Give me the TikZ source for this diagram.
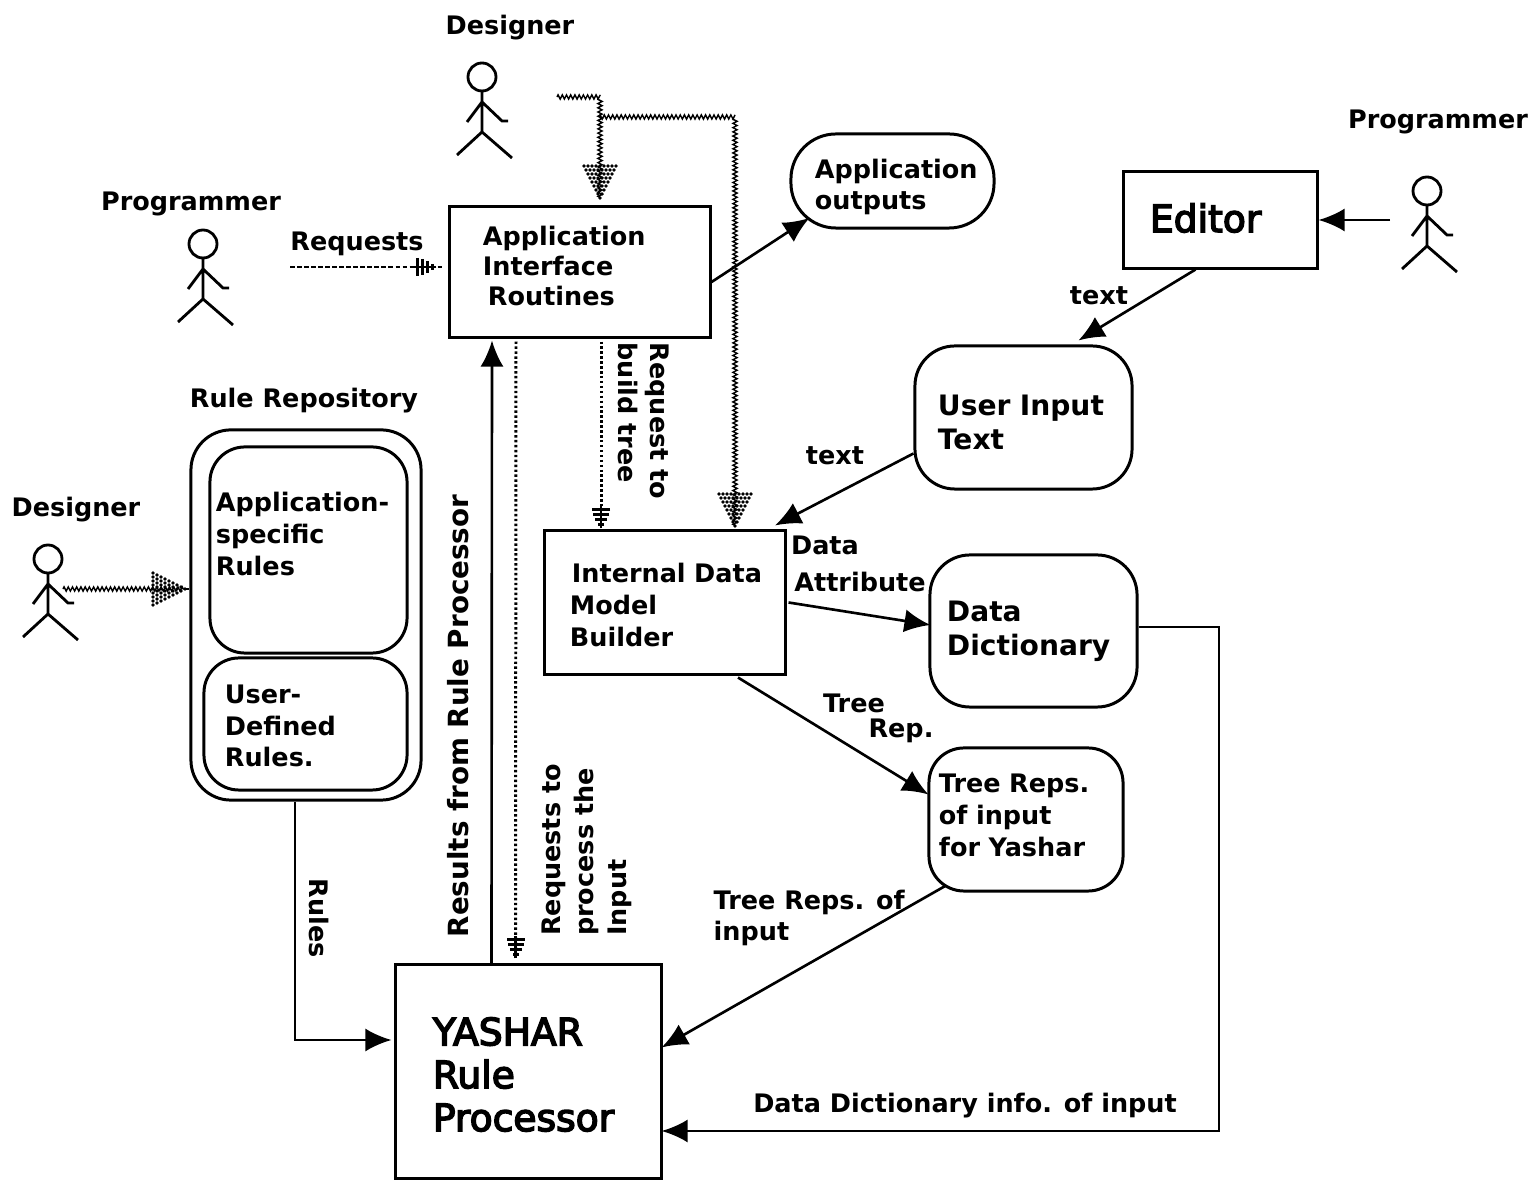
\documentclass[tikz,border=0pt]{standalone}
\usepackage{fontspec}
\setsansfont{DejaVu Sans}
\newfontfamily\bigface[FakeBold=4]{DejaVu Sans}
\usetikzlibrary{calc,arrows.meta,decorations.pathmorphing}
\newcommand{\gap}[1]{\par\kern#1\relax}
\tikzset{
  lblfont/.style={font=\fontsize{7.25}{9.07}\selectfont\sffamily\bfseries},
  midfont/.style={font=\fontsize{8}{9.6}\selectfont\sffamily\bfseries},
  bigfont/.style={font=\fontsize{10.7}{12.2}\selectfont\bigface},
  lbl/.style={lblfont, inner sep=0pt, align=left},
  sqbox/.style={draw, line width=0.85pt, align=left, inner ysep=0pt},
  rdbox/.style={sqbox, rounded corners=0.35cm},
  solidarr/.style={draw, line width=0.75pt, -{Latex[length=0.26cm,width=0.23cm]}},
  wavy/.style={draw, line width=0.4pt, decorate, decoration={zigzag, amplitude=0.6pt, segment length=1.2pt}},
  dotline/.style={draw, line width=0.85pt, dash pattern=on 0.7pt off 0.7pt},
  pics/stickman/.style={code={\draw[line width=0.8pt] (0,0) circle (14) (0,14)--(0,55)--(-25,78) (0,55)--(30,81) (-15,45)--(0,25)--(20,44)--(26,44);}},
  pics/chkhead/.style={code={\foreach \r in {0,...,8}{\foreach \c in {0,...,\r}{\fill ({-4*\r},{2*\r-4*\c}) circle (1.8);}}}},
  pics/dothead/.style={code={\draw[line width=0.8pt] (0,0)--(-22,0) (-19,-9)--(-19,9) (-14,-8)--(-14,8) (-9,-6)--(-9,6) (-4,-3)--(-4,3);}}
}
\begin{document}
\begin{tikzpicture}[x=0.01cm, y=-0.01cm, font=\sffamily]
\useasboundingbox (0,0) rectangle (1539,1180);
\pic at (482,77) {stickman}; \pic at (203,244) {stickman}; \pic at (48,559) {stickman}; \pic at (1427,191) {stickman};
\node[lbl] (dsgntop) at (510,28) {Designer}; \node[lbl] (progleft) at (191,204) {Programmer}; \node[lbl] (dsgnleft) at (76,510) {Designer}; \node[lbl] (progright) at (1438,122) {Programmer};
\node[sqbox, minimum width=2.6cm, minimum height=1.3cm, text width=1.94cm, inner xsep=0.33cm, font=\fontsize{7.25}{8.4}\selectfont\sffamily\bfseries] (iface) at (580,272) {Application\\Interface\\\hspace*{0.05cm}Routines\gap{3.4pt}};
\node[rdbox, rounded corners=0.45cm, minimum width=2.03cm, minimum height=0.94cm, text width=1.55cm, inner xsep=0.24cm, lblfont] (appout) at (892.5,181) {Application\\outputs\gap{-3.4pt}};
\node[sqbox, minimum width=1.93cm, minimum height=0.96cm, text width=1.41cm, inner xsep=0.26cm, bigfont] (editor) at (1220.5,220) {Editor\gap{1.1pt}};
\node[rdbox, rounded corners=0.4cm, minimum width=2.17cm, minimum height=1.43cm, text width=1.71cm, inner xsep=0.23cm, midfont] (userin) at (1023.5,417.5) {User Input\\Text\gap{-2.8pt}};
\node[sqbox, minimum width=2.4cm, minimum height=1.43cm, text width=2cm, inner xsep=0.2cm, lblfont] (builder) at (665,602.5) {\hspace*{0.07cm}Internal Data\\\hspace*{0.05cm}Model\\\hspace*{0.05cm}Builder\gap{-1.4pt}};
\node[rdbox, rounded corners=0.4cm, minimum width=2.07cm, minimum height=1.52cm, text width=1.73cm, inner xsep=0.17cm, midfont] (datadict) at (1033.5,631) {Data\\Dictionary};
\node[rdbox, minimum width=1.94cm, minimum height=1.43cm, text width=1.74cm, inner xsep=0.1cm, lblfont] (treereps) at (1026,819.5) {Tree Reps.\\of input\\for Yashar\gap{2.3pt}};
\node[rdbox, rounded corners=0.4cm, minimum width=2.3cm, minimum height=3.7cm] (repo) at (306,615) {};
\node[lbl] (repolbl) at (304,401) {Rule Repository};
\node[rdbox, minimum width=1.97cm, minimum height=2.06cm, text width=1.85cm, inner xsep=0.06cm, lblfont] (apprules) at (308.5,550) {Application-\\specific\\Rules\gap{9pt}};
\node[rdbox, minimum width=2.03cm, minimum height=1.32cm, text width=1.61cm, inner xsep=0.21cm, lblfont] (userrules) at (305.5,724) {User-\\Defined\\Rules.\gap{-1.1pt}};
\node[sqbox, minimum width=2.65cm, minimum height=2.13cm, text width=1.91cm, inner xsep=0.37cm, bigfont] (yashar) at (528.5,1071.5) {YASHAR\\Rule\\Processor\gap{-1.7pt}};
\node[lbl] (reqlbl) at (357,244) {Requests}; \node[lbl, rotate=-90] (buildlbl) at (644,421) {Request to\\build tree}; \node[lbl, rotate=90, font=\fontsize{7.9}{9.4}\selectfont\sffamily\bfseries] (resultlbl) at (458,716) {Results from Rule Processor};
\node[lbl, rotate=90, font=\fontsize{7.25}{9.3}\selectfont\sffamily\bfseries] (proclbl) at (587,850) {Requests to\\process the\\Input}; \node[lbl, rotate=-90] (ruleslbl) at (319,918) {Rules};
\node[lbl] (textone) at (1099,296) {text}; \node[lbl] (texttwo) at (835,456) {text}; \node[lbl] (datalbl) at (825,545) {Data}; \node[lbl] (attrlbl) at (860,582) {Attribute}; \node[lbl] (treelbl) at (854,703) {Tree}; \node[lbl] (replbl) at (901,731) {Rep.};
\node[lbl, anchor=west] (inputlbl) at (713,918) {Tree Reps. of\\input}; \node[lbl] (infolbl) at (965,1106) {Data Dictionary info. of input};
\coordinate (dsgnout) at (557,97); \coordinate (bend) at (599,117); \coordinate (tipa) at (600,198); \coordinate (tipb) at (735,526); \coordinate (handl) at (63,589); \coordinate (tipc) at (185,589); \coordinate (reqstart) at (290,267); \coordinate (progr) at (1390,220); \coordinate (ddcorner) at (1219,1131);
\path[wavy] (dsgnout) -| (tipa); \path[wavy] (bend) -| (tipb); \path[wavy] (handl) -- (tipc);
\pic[rotate=-90] at (tipa) {chkhead}; \pic[rotate=-90] at (tipb) {chkhead}; \pic at (tipc) {chkhead}; \draw[line width=0.5pt] (tipc) -- (tipc -| repo.west);
\draw[line width=0.45pt, dash pattern=on 1.4pt off 0.6pt] (reqstart) -- ($(iface.west)+(-6,-5)$); \pic at ($(iface.west)+(-12,-5)$) {dothead};
\path[solidarr] ($(iface.east)+(0,10)$) -- ($(appout.west)+(20,37)$);
\path[solidarr] (progr) -- (editor.east);
\path[solidarr] ($(editor.south)+(-25,0)$) -- ($(userin.north)+(55,-4)$);
\path[solidarr] ($(userin.west)+(0,36)$) -- ($(builder.north)+(110,-4)$);
\path[solidarr] ($(builder.east)+(2,0)$) -- ($(datadict.west)+(2,-6)$);
\path[solidarr] ($(builder.south)+(73,2)$) -- ($(treereps.west)+(1,-25)$);
\path[solidarr] ($(treereps.south)+(-80,-7)$) -- ($(yashar.east)+(-1,-24)$);
\path[solidarr] ($(datadict.east)+(0,-4)$) -| (ddcorner) -- ($(yashar.east)+(-1,59.5)$);
\path[solidarr] ($(yashar.north)+(-37,0)$) -- ($(iface.south)+(-88,2)$);
\path[solidarr] ($(repo.south)+(-11,0)$) |- ($(yashar.west)+(-3,-31.5)$);
\path[dotline] ($(iface.south)+(-64,3)$) -- ($(yashar.north)+(-13,-8)$); \pic[rotate=-90] at ($(yashar.north)+(-13,-5)$) {dothead};
\path[dotline] ($(iface.south)+(21,3)$) -- ($(builder.north)+(-64,-5)$); \pic[rotate=-90] at ($(builder.north)+(-64,-1)$) {dothead};
\end{tikzpicture}
\end{document}
